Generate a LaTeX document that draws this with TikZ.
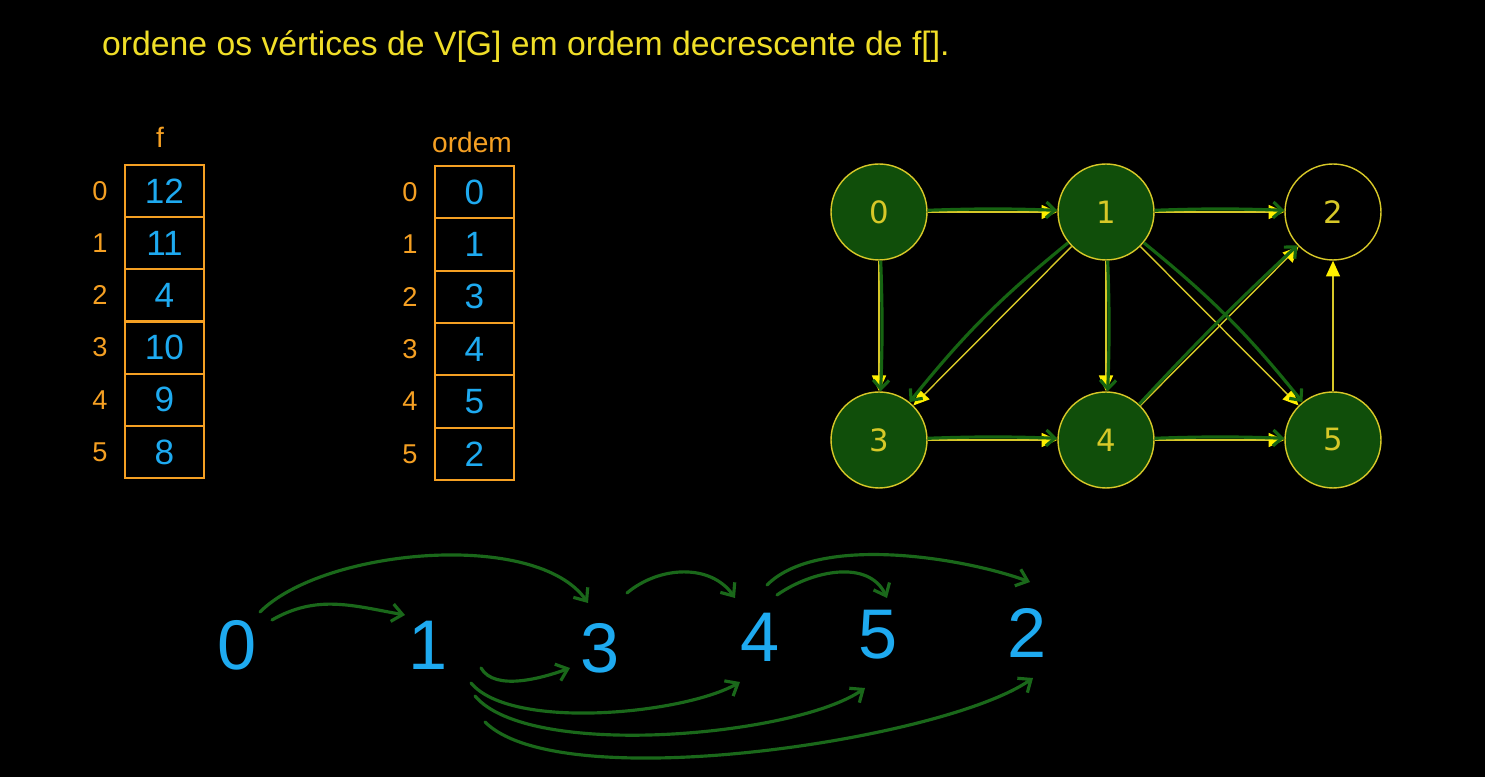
\documentclass[tikz,border=0pt]{standalone}
\usepackage{fontspec}
\setmainfont{Liberation Sans}
\newfontfamily\djv{DejaVu Sans}
\usetikzlibrary{arrows.meta}
\definecolor{ttl}{RGB}{240,222,40}
\definecolor{org}{RGB}{245,160,35}
\definecolor{hand}{RGB}{30,170,240}
\definecolor{vfill}{RGB}{16,78,10}
\definecolor{ylw}{RGB}{215,200,40}
\definecolor{ybr}{RGB}{255,240,0}
\definecolor{grn}{RGB}{22,100,18}
\definecolor{grn2}{RGB}{26,104,26}
\tikzset{cell/.style={draw=org,line width=1.2pt,minimum width=1.58cm,minimum height=1.044cm,inner sep=0pt,text=hand,font=\fontsize{20}{20}\selectfont},
 idx/.style={text=org,font=\fontsize{15.5}{15.5}\selectfont},
 vtx/.style={circle,draw=ylw,line width=0.8pt,fill=vfill,minimum size=1.92cm,inner sep=0pt,text=ylw,font=\djv\fontsize{17.5}{17.5}\selectfont},
 ye/.style={draw=ylw,line width=0.8pt,-{Triangle[length=9pt,width=8pt,color=ybr]}},
 ge/.style={draw=grn,line width=1.8pt,-{Straight Barb[length=5pt,width=9pt]}},
 dg/.style={text=hand,font=\fontsize{40}{40}\selectfont,inner sep=0pt},
 ha/.style={draw=grn2,line width=1.8pt,line cap=round,-{Straight Barb[length=6pt,width=10pt]}}}
\begin{document}
\begin{tikzpicture}[x=0.02cm,y=0.02cm]
\useasboundingbox (0,0) rectangle (1485,777);
\fill[black] (0,0) rectangle (1485,777);
\node[anchor=west,text=ttl,font=\fontsize{19.2}{19.2}\selectfont] (ttl) at (96,730) {ordene os vértices de V[G] em ordem decrescente de f[].};
% tabela f
\node[idx,font=\fontsize{16}{16}\selectfont] (fl) at (160,640) {f};
\foreach \v [count=\i from 0] in {12,11,4,10,9,8}{
 \node[cell] (f\i) at (164.5,{612-26.1-52.17*\i}) {\v};
 \node[idx] (fi\i) at (100,{612-26.1-52.17*\i}) {\i};}
% tabela ordem
\node[idx,font=\fontsize{16}{16}\selectfont] (ol) at (472,635) {ordem};
\foreach \v [count=\i from 0] in {0,1,3,4,5,2}{
 \node[cell] (o\i) at (474.5,{611-26.2-52.33*\i}) {\v};
 \node[idx] (oi\i) at (410,{611-26.2-52.33*\i}) {\i};}
% grafo
\node[vtx] (v0) at (879,565) {0};
\node[vtx] (v1) at (1106,565) {1};
\node[vtx,fill=black] (v2) at (1333,565) {2};
\node[vtx] (v3) at (879,337) {3};
\node[vtx] (v4) at (1106,337) {4};
\node[vtx] (v5) at (1333,337) {5};
\foreach \a/\b in {0/1,1/2,0/3,1/3,1/4,1/5,3/4,4/5,4/2,5/2} \draw[ye] (v\a) -- (v\b);
\foreach \a/\b in {0/1,1/2,0/3,1/4,3/4,4/5,4/2} \draw[ge] (v\a) to[bend left=2] (v\b);
\draw[ge] (v1) to[bend right=6] (v3);
\draw[ge] (v1) to[bend left=6] (v5);
% ordem topologica
\node[dg] (d0) at (237,132) {0};
\node[dg] (d1) at (428,132) {1};
\node[dg] (d3) at (600,129) {3};
\node[dg] (d4) at (760,140) {4};
\node[dg] (d5) at (878,142) {5};
\node[dg] (d2) at (1027,144) {2};
\draw[ha] ([shift={(35,25)}]d0.center) to[out=30,in=170] ([shift={(-23,30)}]d1.center);
\draw[ha] ([shift={(23,33)}]d0.center) to[out=45,in=125,looseness=0.7] ([shift={(-12,45)}]d3.center);
\draw[ha] ([shift={(27,55)}]d3.center) to[out=40,in=125] ([shift={(-25,39)}]d4.center);
\draw[ha] ([shift={(17,42)}]d4.center) to[out=35,in=115] ([shift={(9,37)}]d5.center);
\draw[ha] ([shift={(7,52)}]d4.center) to[out=45,in=160,looseness=0.7] ([shift={(3,51)}]d2.center);
\draw[ha] ([shift={(53,-23)}]d1.center) to[out=-60,in=-160,looseness=0.8] ([shift={(-30,-20)}]d3.center);
\draw[ha] ([shift={(43,-38)}]d1.center) to[out=-50,in=-150,looseness=0.6] ([shift={(-20,-45)}]d4.center);
\draw[ha] ([shift={(47,-51)}]d1.center) to[out=-50,in=-145,looseness=0.55] ([shift={(-13,-53)}]d5.center);
\draw[ha] ([shift={(57,-77)}]d1.center) to[out=-45,in=-145,looseness=0.5] ([shift={(6,-45)}]d2.center);
\end{tikzpicture}
\end{document}
